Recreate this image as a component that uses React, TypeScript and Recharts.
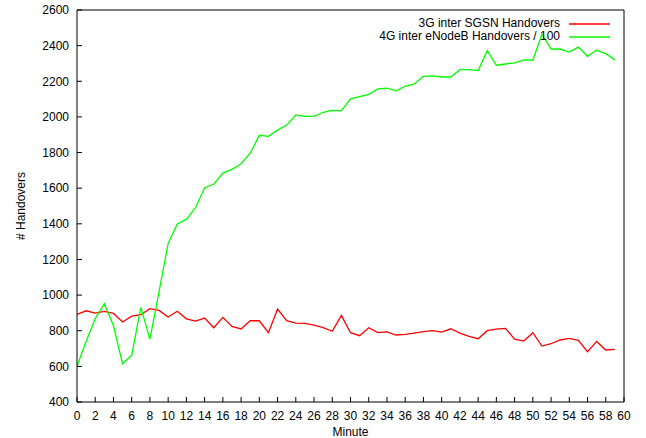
import React from 'react';
import { LineChart, Line, XAxis, YAxis, Label } from 'recharts';

const minutes = [
  0, 1, 2, 3, 4, 5, 6, 7, 8, 9, 10, 11, 12, 13, 14, 15, 16, 17, 18, 19,
  20, 21, 22, 23, 24, 25, 26, 27, 28, 29, 30, 31, 32, 33, 34, 35, 36, 37, 38, 39,
  40, 41, 42, 43, 44, 45, 46, 47, 48, 49, 50, 51, 52, 53, 54, 55, 56, 57, 58, 59,
];

const sgsn3G = [
  892, 912, 899, 909, 897, 849, 882, 890, 924, 914, 877, 909, 867, 854, 871, 817, 875, 824, 810, 856,
  856, 789, 922, 856, 843, 841, 832, 817, 797, 886, 789, 772, 817, 789, 793, 776, 780, 787, 795, 801,
  792, 811, 787, 768, 755, 800, 809, 813, 753, 742, 789, 714, 727, 748, 757, 746, 682, 740, 692, 695,
];

const enodeb4G = [
  600, 740, 869, 952, 828, 615, 662, 931, 753, 1020, 1290, 1399, 1425, 1490, 1603, 1622, 1685, 1706, 1737, 1796,
  1897, 1891, 1926, 1954, 2011, 2003, 2003, 2026, 2037, 2035, 2101, 2114, 2127, 2157, 2161, 2146, 2172, 2185, 2228, 2230,
  2224, 2224, 2265, 2265, 2260, 2372, 2290, 2297, 2303, 2320, 2318, 2464, 2381, 2381, 2364, 2392, 2340, 2374, 2355, 2320,
];

const xTicks = [0, 2, 4, 6, 8, 10, 12, 14, 16, 18, 20, 22, 24, 26, 28, 30, 32, 34, 36, 38, 40, 42, 44, 46, 48, 50, 52, 54, 56, 58, 60];
const yTicks = [400, 600, 800, 1000, 1200, 1400, 1600, 1800, 2000, 2200, 2400, 2600];

const seriesNames = ['3G inter SGSN Handovers', '4G inter eNodeB Handovers / 100'];
const seriesKeys = ['sgsn', 'enodeb'];
const seriesColors = ['#ff0000', '#00ff00'];

const data = minutes.map((m, i) => ({ m, sgsn: sgsn3G[i], enodeb: enodeb4G[i] }));

const font = '"Liberation Sans", Arial, Helvetica, sans-serif';
const tickStyle = { fill: '#000', fontSize: 12, fontFamily: font };

export default function App() {
  return (
    <div style={{ position: 'absolute', left: 0, top: 0, width: 646, height: 438, background: '#fff' }}>
      <LineChart width={646} height={438} data={data} margin={{ top: 0, right: 0, bottom: 0, left: 0 }}>
        <XAxis
          xAxisId="b"
          dataKey="m"
          type="number"
          domain={[0, 60]}
          ticks={xTicks}
          interval={0}
          allowDataOverflow
          orientation="bottom"
          height={36}
          tickSize={-5}
          tickMargin={14}
          stroke="#000"
          axisLine={{ stroke: '#000' }}
          tickLine={{ stroke: '#000' }}
          tick={tickStyle}
        >
          <Label value="Minute" position="insideBottom" offset={2} style={{ fill: '#000', fontSize: 12, fontFamily: font }} />
        </XAxis>
        <XAxis
          xAxisId="t"
          dataKey="m"
          type="number"
          domain={[0, 60]}
          ticks={xTicks}
          interval={0}
          allowDataOverflow
          orientation="top"
          height={10}
          tickSize={-5}
          stroke="#000"
          axisLine={{ stroke: '#000' }}
          tickLine={{ stroke: '#000' }}
          tick={false}
        />
        <YAxis
          yAxisId="l"
          type="number"
          domain={[400, 2600]}
          ticks={yTicks}
          interval={0}
          allowDataOverflow
          width={77}
          tickSize={-5}
          tickMargin={13}
          stroke="#000"
          axisLine={{ stroke: '#000' }}
          tickLine={{ stroke: '#000' }}
          tick={tickStyle}
        >
          <Label
            value="# Handovers"
            angle={-90}
            position="insideLeft"
            offset={21}
            style={{ fill: '#000', fontSize: 12, fontFamily: font, textAnchor: 'middle' }}
          />
        </YAxis>
        <YAxis
          yAxisId="r"
          orientation="right"
          type="number"
          domain={[400, 2600]}
          ticks={yTicks}
          interval={0}
          allowDataOverflow
          width={22}
          tickSize={-5}
          stroke="#000"
          axisLine={{ stroke: '#000' }}
          tickLine={{ stroke: '#000' }}
          tick={false}
        />
        {seriesKeys.map((k, i) => (
          <Line
            key={k}
            xAxisId="b"
            yAxisId="l"
            type="linear"
            dataKey={k}
            name={seriesNames[i]}
            stroke={seriesColors[i]}
            strokeWidth={1.3}
            dot={false}
            activeDot={false}
            isAnimationActive={false}
          />
        ))}
      </LineChart>
      <div
        style={{
          position: 'absolute',
          left: 300,
          top: 17,
          width: 310,
          fontFamily: font,
          fontSize: 12,
          color: '#000',
          lineHeight: '13px',
        }}
      >
        {seriesNames.map((n, i) => (
          <div key={n} style={{ display: 'flex', justifyContent: 'flex-end', alignItems: 'center', height: 13 }}>
            <span>{n}</span>
            <svg width={41} height={4} style={{ marginLeft: 9, display: 'block' }}>
              <line x1={0} y1={2} x2={41} y2={2} stroke={seriesColors[i]} strokeWidth={1.3} />
            </svg>
          </div>
        ))}
      </div>
    </div>
  );
}
